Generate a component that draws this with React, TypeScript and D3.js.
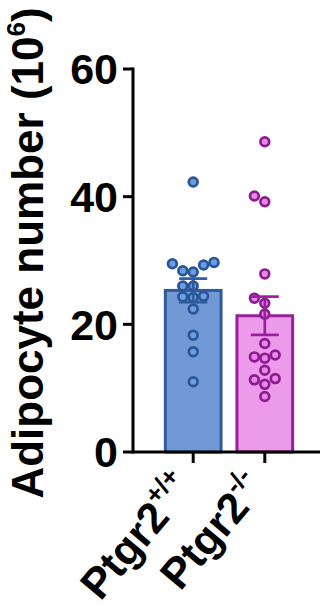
import React from "react";
import * as d3 from "d3";

// Adipocyte counts (×10^6) per animal, by genotype
const genotypes = ["wt", "ko"];
const genotypeBase = ["Ptgr2", "Ptgr2"];
const genotypeSup = ["+/+", "-/-"];
const wildTypeValues = [42.3, 29.7, 29.5, 29.3, 28.4, 28.2, 26.0, 26.0, 24.4, 24.3, 24.2, 22.4, 18.3, 15.7, 11.0];
const knockoutValues = [48.6, 40.1, 39.2, 27.9, 24.1, 23.3, 21.6, 17.0, 15.2, 14.9, 14.7, 12.8, 11.5, 11.3, 10.6, 8.7];
const yTicks = [0, 20, 40, 60];

const W = 323;
const H = 610;
const FONT = "'Liberation Sans', Arial, Helvetica, sans-serif";

const palette = [
  { barFill: "#7199d5", barStroke: "#2d5b9b", dotFill: "#6c9ee3", dotStroke: "#2a5596" },
  { barFill: "#eb9bea", barStroke: "#9a1f9e", dotFill: "#e78ae7", dotStroke: "#8e1a91" },
];

type Dot = { v: number; dx: number };

// Simple column swarm: each point goes to the centre if free, else alternates outward.
function swarm(values: number[], y: d3.ScaleLinear<number, number>, diam: number): Dot[] {
  const sorted = [...values].sort((a, b) => a - b);
  const placed: { x: number; y: number; v: number }[] = [];
  for (const v of sorted) {
    const py = y(v);
    for (let k = 0; k < 20; k++) {
      const off = k === 0 ? 0 : (k % 2 === 1 ? -1 : 1) * Math.ceil(k / 2) * diam;
      const hit = placed.some((p) => Math.hypot(p.x - off, p.y - py) < diam - 0.01);
      if (!hit) {
        placed.push({ x: off, y: py, v });
        break;
      }
    }
  }
  return placed.map((p) => ({ v: p.v, dx: p.x }));
}

export default function App() {
  const y = d3.scaleLinear().domain([0, 60]).range([452, 69]);
  const x = d3.scaleBand<string>().domain(genotypes).range([136, 322]).paddingInner(0.222).paddingOuter(0.41);
  const axisX = 133;
  const axisY = y(0);
  const series = [wildTypeValues, knockoutValues];
  const diam = 10.4;

  return (
    <svg width={W} height={H} style={{ position: "absolute", left: 0, top: 0, background: "#fff" }} fontFamily={FONT}>
      {/* bars */}
      {series.map((vals, i) => {
        const mean = d3.mean(vals)!;
        const bx = x(genotypes[i])!;
        return (
          <rect key={"bar" + i} x={bx} y={y(mean)} width={x.bandwidth()} height={axisY - y(mean)}
            fill={palette[i].barFill} stroke={palette[i].barStroke} strokeWidth={3} />
        );
      })}
      {/* individual animals */}
      {series.map((vals, i) => {
        const cx = x(genotypes[i])! + x.bandwidth() / 2;
        return swarm(vals, y, diam).map((d, j) => (
          <circle key={`pt${i}-${j}`} cx={cx + d.dx} cy={y(d.v)} r={4.4}
            fill={palette[i].dotFill} stroke={palette[i].dotStroke} strokeWidth={2.7} />
        ));
      })}
      {/* mean ± SEM */}
      {series.map((vals, i) => {
        const mean = d3.mean(vals)!;
        const sem = d3.deviation(vals)! / Math.sqrt(vals.length);
        const cx = x(genotypes[i])! + x.bandwidth() / 2;
        const c = palette[i].barStroke;
        return (
          <g key={"err" + i} stroke={c} strokeWidth={2.7}>
            <line x1={cx} x2={cx} y1={y(mean - sem)} y2={y(mean + sem)} />
            <line x1={cx - 14} x2={cx + 14} y1={y(mean + sem)} y2={y(mean + sem)} />
            <line x1={cx - 14} x2={cx + 14} y1={y(mean - sem)} y2={y(mean - sem)} />
          </g>
        );
      })}
      {/* axes */}
      <g stroke="#000" strokeWidth={3}>
        <line x1={axisX} x2={axisX} y1={y(60) - 1.5} y2={axisY + 1.5} />
        {yTicks.map((t) => (
          <line key={"yt" + t} x1={axisX - 10} x2={axisX} y1={y(t)} y2={y(t)} />
        ))}
        <line x1={axisX} x2={320} y1={axisY} y2={axisY} />
        {genotypes.map((g) => {
          const cx = x(g)! + x.bandwidth() / 2;
          return <line key={"xt" + g} x1={cx} x2={cx} y1={axisY} y2={axisY + 11} />;
        })}
      </g>
      {yTicks.map((t) => (
        <text key={"yl" + t} x={axisX - 15} y={y(t)} dy="0.36em" textAnchor="end"
          fontSize={43} fontWeight="bold" fill="#000">{t}</text>
      ))}
      {/* y title */}
      <text transform={`translate(43,253) rotate(-90)`} textAnchor="middle" fontSize={44}
        fontWeight="bold" fill="#000">
        Adipocyte number (10<tspan fontSize={26} dy={-18}>6</tspan><tspan dy={18}>)</tspan>
      </text>
      {/* genotype labels */}
      {genotypes.map((g, i) => {
        const cx = x(g)! + x.bandwidth() / 2;
        return (
          <text key={"xl" + g} transform={`translate(${cx + 2},${axisY + 37}) rotate(-50)`}
            textAnchor="end" fontSize={43} fontWeight="bold" fill="#000">
            {genotypeBase[i]}<tspan fontSize={26} dy={-19}>{genotypeSup[i]}</tspan>
          </text>
        );
      })}
    </svg>
  );
}
